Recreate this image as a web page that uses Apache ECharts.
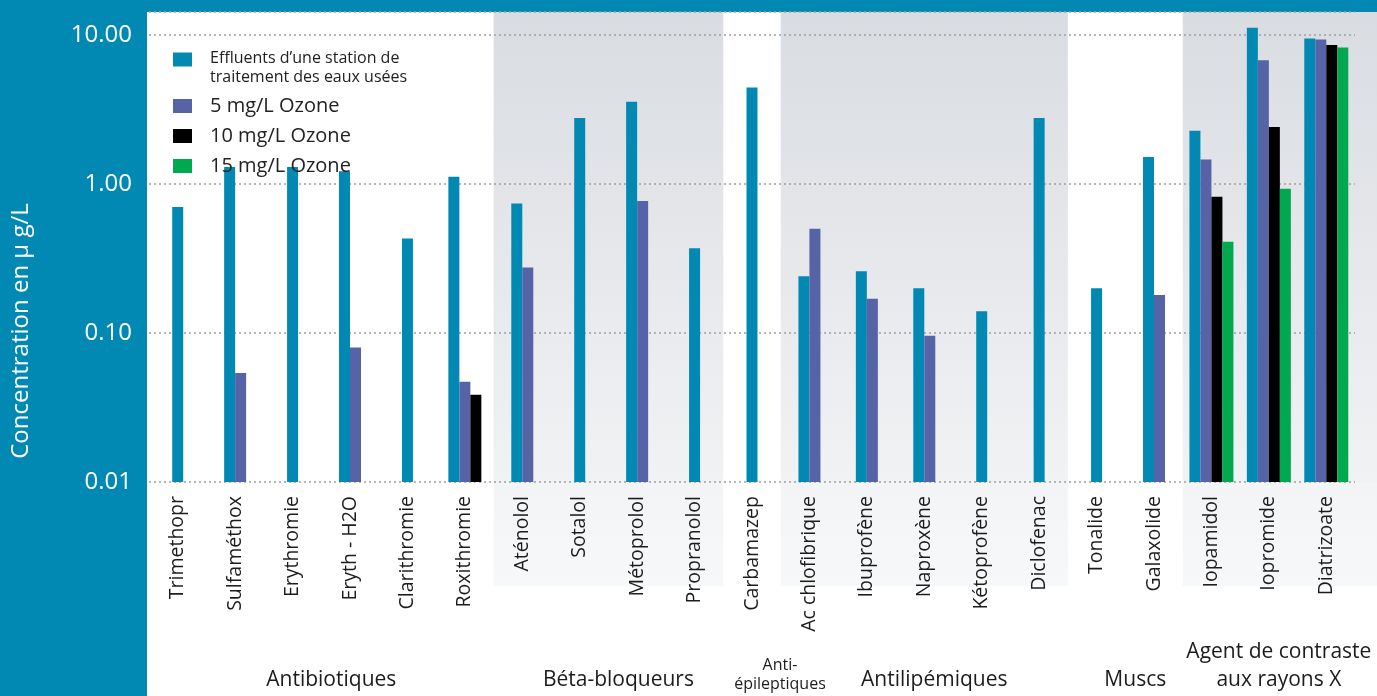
<!DOCTYPE html>
<html><head><meta charset="utf-8">
<script src="https://cdn.jsdelivr.net/npm/echarts@6/dist/echarts.min.js"></script>
<style>
html,body{margin:0;padding:0;width:1377px;height:696px;background:#0289b3;overflow:hidden}
#panel{position:absolute;left:147px;top:12px;right:0;bottom:0;background:#fff}
#strip{position:absolute;left:1355px;top:12px;width:22px;height:574px;background:linear-gradient(#d9dce1 0%,#f1f2f4 81.9%,#f3f4f6 82%,#f7f8f9 100%)}
#chart{position:absolute;left:0;top:0;width:1377px;height:696px}
</style></head><body>
<div id="panel"></div><div id="strip"></div><div id="chart"></div>
<script>
const categories = ['Trimethopr','Sulfaméthox','Erythromie','Eryth - H2O','Clarithromie','Roxithromie',
  'Aténolol','Sotalol','Métoprolol','Propranolol','Carbamazep',
  'Ac chlofibrique','Ibuprofène','Naproxène','Kétoprofène','Diclofenac',
  'Tonalide','Galaxolide','Iopamidol','Iopromide','Diatrizoate'];
const seriesNames = ['Effluents d\u2019une station de\ntraitement des eaux usées','5 mg/L Ozone','10 mg/L Ozone','15 mg/L Ozone'];
const effluent = [0.70,1.30,1.30,1.22,0.43,1.12, 0.74,2.77,3.56,0.37, 4.45, 0.24,0.26,0.20,0.14,2.77, 0.20,1.52, 2.28,11.2,9.46];
const ozone5   = [null,0.054,null,0.080,null,0.047, 0.275,null,0.77,null, null, 0.50,0.17,0.096,null,null, null,0.18, 1.46,6.77,9.33];
const ozone10  = [null,null,null,null,null,0.0385, null,null,null,null, null, null,null,null,null,null, null,null, 0.82,2.41,8.58];
const ozone15  = [null,null,null,null,null,null, null,null,null,null, null, null,null,null,null,null, null,null, 0.41,0.93,8.23];
const groupNames = ['Antibiotiques','Béta-bloqueurs','Anti-\népileptiques','Antilipémiques','Muscs','Agent de contraste\naux rayons X'];
const groupSizes = [6,4,1,5,2,3];
const yMin = 0.01, yMax = 14.27;

const FONT = '"Open Sans", Lato, sans-serif';
const colors = ['#0189b3','#5663a6','#000000','#00a84f'];
const allSeries = [effluent, ozone5, ozone10, ozone15];

function makeRender(k) {
  return function (params, api) {
    const idx = api.value(0);
    const val = api.value(1);
    const n = allSeries.filter(a => a[idx] != null).length;
    const top = api.coord([idx, val]);
    const base = api.coord([idx, yMin]);
    const bw = 11;
    const x = top[0] + (k - (n - 1) / 2) * bw - bw / 2;
    return { type: 'rect', shape: { x: x, y: top[1], width: bw, height: base[1] - top[1] }, style: api.style() };
  };
}

const grad = new echarts.graphic.LinearGradient(0, 0, 0, 1, [
  { offset: 0, color: '#d9dce1' }, { offset: 1, color: '#f1f2f4' }]);
const gradLow = new echarts.graphic.LinearGradient(0, 0, 0, 1, [
  { offset: 0, color: '#f3f4f6' }, { offset: 1, color: '#f7f8f9' }]);

let start = 0;
const areas = [], lowAreas = [];
groupNames.forEach((g, gi) => {
  const s = start, e = start + groupSizes[gi] - 1;
  start += groupSizes[gi];
  const shaded = gi % 2 === 1;
  const small = g.indexOf('Anti-') === 0;
  areas.push([
    { name: g, xAxis: s, itemStyle: { color: shaded ? grad : 'rgba(255,255,255,0)' },
      label: small ? { fontSize: 16, lineHeight: 19, offset: [28, 0] } : {} },
    { xAxis: e }
  ]);
  if (shaded) lowAreas.push([{ xAxis: s, itemStyle: { color: gradLow } }, { xAxis: e }]);
});

const series = allSeries.map((arr, k) => ({
  type: 'custom', name: seriesNames[k], renderItem: makeRender(k),
  itemStyle: { color: colors[k] }, encode: { x: 0, y: 1 }, z: 3,
  data: arr.map((v, i) => v == null ? null : [i, v]).filter(Boolean)
}));
series.push({
  type: 'bar', name: 'groups', silent: true, data: categories.map(() => null),
  markArea: {
    silent: true,
    label: { show: true, position: 'bottom', distance: 212, verticalAlign: 'bottom', offset: [10, 0],
      fontSize: 21, lineHeight: 28, color: '#1c1c1c', fontFamily: FONT },
    data: areas
  }
});
series.push({
  type: 'bar', name: 'groupsLow', silent: true, xAxisIndex: 1, yAxisIndex: 1,
  data: categories.map(() => null),
  markArea: { silent: true, label: { show: false }, data: lowAreas }
});

const chart = echarts.init(document.getElementById('chart'), null, { renderer: 'canvas' });
chart.setOption({
  backgroundColor: 'transparent',
  animation: false,
  grid: [
    { left: 149, right: 22, top: 12, bottom: 214 },
    { left: 149, right: 22, top: 482, height: 104 }
  ],
  legend: {
    orient: 'vertical', left: 173, top: 32, itemWidth: 19, itemHeight: 14, itemGap: 8,
    icon: 'rect', padding: 0, selectedMode: false,
    formatter: name => name === seriesNames[0]
      ? '{s| }\n' + name.split('\n').map(l => '{t|' + l + '}').join('\n')
      : name,
    textStyle: { fontFamily: FONT, fontSize: 20, lineHeight: 22, color: '#222', padding: [0, 0, 0, 13],
      rich: {
        s: { fontSize: 2, lineHeight: 17 },
        t: { fontFamily: FONT, fontSize: 16, lineHeight: 19, color: '#222' }
      } },
    data: seriesNames
  },
  xAxis: [{
    type: 'category', data: categories, z: 2,
    axisLine: { show: false }, axisTick: { show: false, interval: 0 },
    axisLabel: { rotate: 90, interval: 0, margin: 14, fontSize: 19.5, color: '#1c1c1c', fontFamily: FONT }
  }, {
    type: 'category', data: categories, gridIndex: 1, show: false,
    axisTick: { show: false, interval: 0 }
  }],
  yAxis: [{
    type: 'log', logBase: 10, min: yMin, max: yMax, z: 1.5,
    name: 'Concentration en \u00b5 g/L', nameLocation: 'middle', nameGap: 116,
    nameTextStyle: { color: '#fff', fontSize: 24, fontFamily: FONT, padding: [0, 168, 0, 0] },
    axisLine: { show: false }, axisTick: { show: false },
    axisLabel: { color: '#fff', fontSize: 24, margin: 17, fontFamily: FONT,
      formatter: v => { const l = Math.log10(v); return Math.abs(l - Math.round(l)) < 1e-6 ? v.toFixed(2) : ''; } },
    splitLine: { show: true, lineStyle: { type: [2, 3], color: '#a0a0a0', width: 1.5 } }
  }, {
    type: 'value', gridIndex: 1, min: 0, max: 1, show: false, splitLine: { show: false }
  }],
  series: series
});
</script></body></html>
